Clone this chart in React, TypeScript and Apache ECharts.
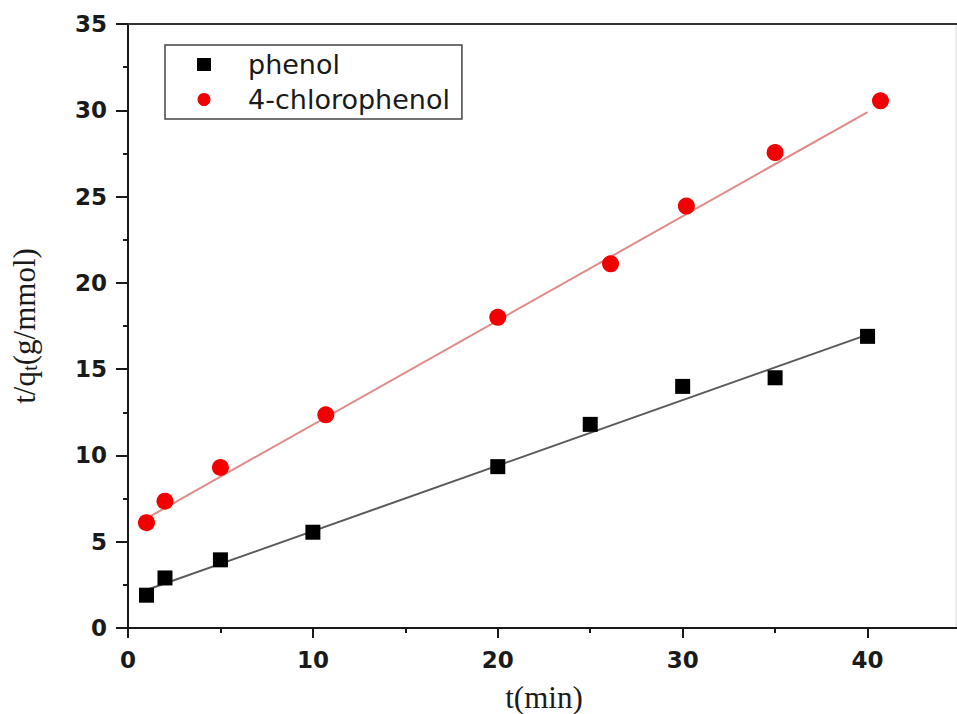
import React, { useEffect, useRef } from "react";
import * as echarts from "echarts";

const phenolX = [1, 2, 5, 10, 20, 25, 30, 35, 40];
const phenolY = [1.9, 2.9, 3.95, 5.55, 9.35, 11.8, 14.0, 14.5, 16.9];
const chloroX = [1, 2, 5, 10.7, 20, 26.1, 30.2, 35, 40.7];
const chloroY = [6.1, 7.35, 9.3, 12.35, 18.0, 21.1, 24.45, 27.55, 30.55];
const phenolFitX = [1, 40];
const phenolFitY = [2.2, 17.0];
const chloroFitX = [1, 40];
const chloroFitY = [6.35, 29.9];
const seriesNames = ["phenol", "4-chlorophenol"];

const zip = (xs: number[], ys: number[]) => xs.map((x, i) => [x, ys[i]]);

export default function App() {
  const ref = useRef<HTMLDivElement>(null);
  useEffect(() => {
    const chart = echarts.init(ref.current!, null, { renderer: "svg" });
    const dark = "#1a1a1a";
    const tickFont = {
      fontFamily: "DejaVu Sans",
      fontWeight: "bold" as const,
      fontSize: 23,
      color: dark,
    };
    chart.setOption({
      animation: false,
      backgroundColor: "#ffffff",
      grid: {
        left: 128,
        top: 24,
        right: -3,
        bottom: 86,
        containLabel: false,
        outerBoundsMode: "none",
      },
      legend: {
        data: seriesNames,
        orient: "vertical",
        left: 165,
        top: 45,
        padding: [6, 12, 6, 32],
        itemGap: 8,
        itemWidth: 14,
        itemHeight: 13,
        borderColor: "#444",
        borderWidth: 1.5,
        borderRadius: 0,
        backgroundColor: "#fff",
        textStyle: {
          fontFamily: "DejaVu Sans",
          fontSize: 27,
          color: dark,
          padding: [0, 0, 0, 32],
        },
      },
      xAxis: [
        {
          type: "value",
          min: 0,
          max: 45,
          interval: 10,
          position: "bottom",
          name: "t(min)",
          nameLocation: "middle",
          nameGap: 54,
          nameTextStyle: {
            fontFamily: "Liberation Serif",
            fontSize: 31,
            color: dark,
          },
          axisLine: { show: true, lineStyle: { color: dark, width: 2 } },
          axisTick: { show: true, inside: false, length: 10, lineStyle: { color: dark, width: 2 } },
          axisLabel: { ...tickFont, margin: 20, showMaxLabel: false },
          splitLine: { show: false },
        },
        {
          type: "value",
          min: 0,
          max: 45,
          interval: 5,
          position: "bottom",
          axisLine: { show: false },
          axisTick: { show: true, inside: false, length: 5, lineStyle: { color: dark, width: 2 } },
          axisLabel: { show: false },
          splitLine: { show: false },
        },
        {
          type: "value",
          min: 0,
          max: 45,
          position: "top",
          axisLine: { show: true, lineStyle: { color: "#333", width: 2 } },
          axisTick: { show: false },
          axisLabel: { show: false },
          splitLine: { show: false },
        },
      ],
      yAxis: [
        {
          type: "value",
          min: 0,
          max: 35,
          interval: 5,
          position: "left",
          name: "{a|t/q}{b|t}{a|(g/mmol)}",
          nameLocation: "middle",
          nameGap: 87,
          nameTextStyle: {
            fontFamily: "Liberation Serif",
            fontSize: 31,
            color: dark,
            rich: {
              a: { fontFamily: "Liberation Serif", fontSize: 31, color: dark, lineHeight: 34 },
              b: {
                fontFamily: "Liberation Serif",
                fontSize: 21,
                color: dark,
                lineHeight: 34,
                padding: [12, 0, 0, 0],
              },
            },
          },
          axisLine: { show: true, lineStyle: { color: dark, width: 2 } },
          axisTick: { show: true, inside: false, length: 12, lineStyle: { color: dark, width: 2 } },
          axisLabel: { ...tickFont, margin: 21 },
          splitLine: { show: false },
        },
        {
          type: "value",
          min: 0,
          max: 35,
          interval: 2.5,
          position: "left",
          axisLine: { show: false },
          axisTick: { show: true, inside: false, length: 5, lineStyle: { color: dark, width: 2 } },
          axisLabel: { show: false },
          splitLine: { show: false },
        },
      ],
      graphic: [
        {
          type: "line",
          shape: { x1: 956, y1: 24, x2: 956, y2: 628 },
          style: { stroke: "#d8d8d8", lineWidth: 1 },
        },
      ],
      series: [
        {
          name: "phenol fit",
          type: "line",
          data: zip(phenolFitX, phenolFitY),
          showSymbol: false,
          symbol: "none",
          lineStyle: { color: "#5a5a5a", width: 2 },
          z: 2,
        },
        {
          name: "4-chlorophenol fit",
          type: "line",
          data: zip(chloroFitX, chloroFitY),
          showSymbol: false,
          symbol: "none",
          lineStyle: { color: "#e08a8a", width: 2 },
          z: 2,
        },
        {
          name: "phenol",
          type: "scatter",
          data: zip(phenolX, phenolY),
          symbol: "rect",
          symbolSize: 15,
          itemStyle: { color: "#000000", opacity: 1 },
          z: 3,
        },
        {
          name: "4-chlorophenol",
          type: "scatter",
          data: zip(chloroX, chloroY),
          symbol: "circle",
          symbolSize: 17,
          itemStyle: { color: "#f00000", opacity: 1 },
          z: 3,
        },
      ],
    });
    return () => chart.dispose();
  }, []);
  return (
    <div
      ref={ref}
      style={{ position: "absolute", left: 0, top: 0, width: 957, height: 714, background: "#fff" }}
    />
  );
}
